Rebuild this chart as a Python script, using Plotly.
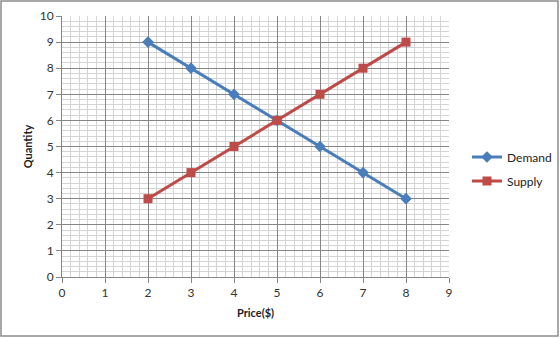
import plotly.graph_objects as go

price = [2, 3, 4, 5, 6, 7, 8]
demand = [9, 8, 7, 6, 5, 4, 3]
supply = [3, 4, 5, 6, 7, 8, 9]

blue = "#4a7ebb"
red = "#be4b48"
W, H = 560, 338
ml, mr, mt, mb = 62, 111, 16, 61
pw, ph = W - ml - mr, H - mt - mb
FONT = "Lato, sans-serif"

fig = go.Figure()
fig.add_trace(go.Scatter(x=price, y=demand, name="Demand", mode="lines+markers",
                         legendgroup="d",
                         line=dict(color=blue, width=3),
                         marker=dict(symbol="diamond", size=9, color=blue)))
fig.add_trace(go.Scatter(x=price, y=supply, name="Supply", mode="lines+markers",
                         legendgroup="s",
                         line=dict(color=red, width=3),
                         marker=dict(symbol="square", size=9, color=red)))

axis_common = dict(
    showgrid=True, gridcolor="#868686", gridwidth=1,
    minor=dict(dtick=0.2, showgrid=True, gridcolor="#d4d4d4", gridwidth=1),
    ticks="outside", ticklen=5, tickcolor="#868686",
    showline=True, linecolor="#868686", linewidth=1,
    zeroline=False, dtick=1, automargin=False,
    tickfont=dict(family=FONT, size=12, color="#333333"),
    fixedrange=True,
)
fig.update_xaxes(range=[0, 9], title=dict(text="<b>Price($)</b>", standoff=9,
                 font=dict(family=FONT, size=11, color="#222222")), **axis_common)
fig.update_yaxes(range=[0, 10], title=dict(text="<b>Quantity</b>", standoff=4,
                 font=dict(family=FONT, size=11, color="#222222")), **axis_common)

# outer chart border
fig.add_shape(type="rect", xref="paper", yref="paper",
              x0=(1 - ml) / pw, x1=(W - 2 - ml) / pw,
              y0=-(H - 2 - mt - ph) / ph, y1=1 + (mt - 1) / ph,
              line=dict(color="#8c8c8c", width=1.5), layer="below")

fig.update_layout(
    width=W, height=H,
    margin=dict(l=ml, r=mr, t=mt, b=mb, autoexpand=False),
    paper_bgcolor="white", plot_bgcolor="white",
    showlegend=True,
    legend=dict(x=(467 - ml) / pw, y=(277 - 169) / ph, xanchor="left", yanchor="middle",
                itemwidth=30, traceorder="grouped", tracegroupgap=5,
                font=dict(family=FONT, size=12, color="#222222"),
                bgcolor="rgba(0,0,0,0)"),
    font=dict(family=FONT),
)

fig.write_html("out.html")
